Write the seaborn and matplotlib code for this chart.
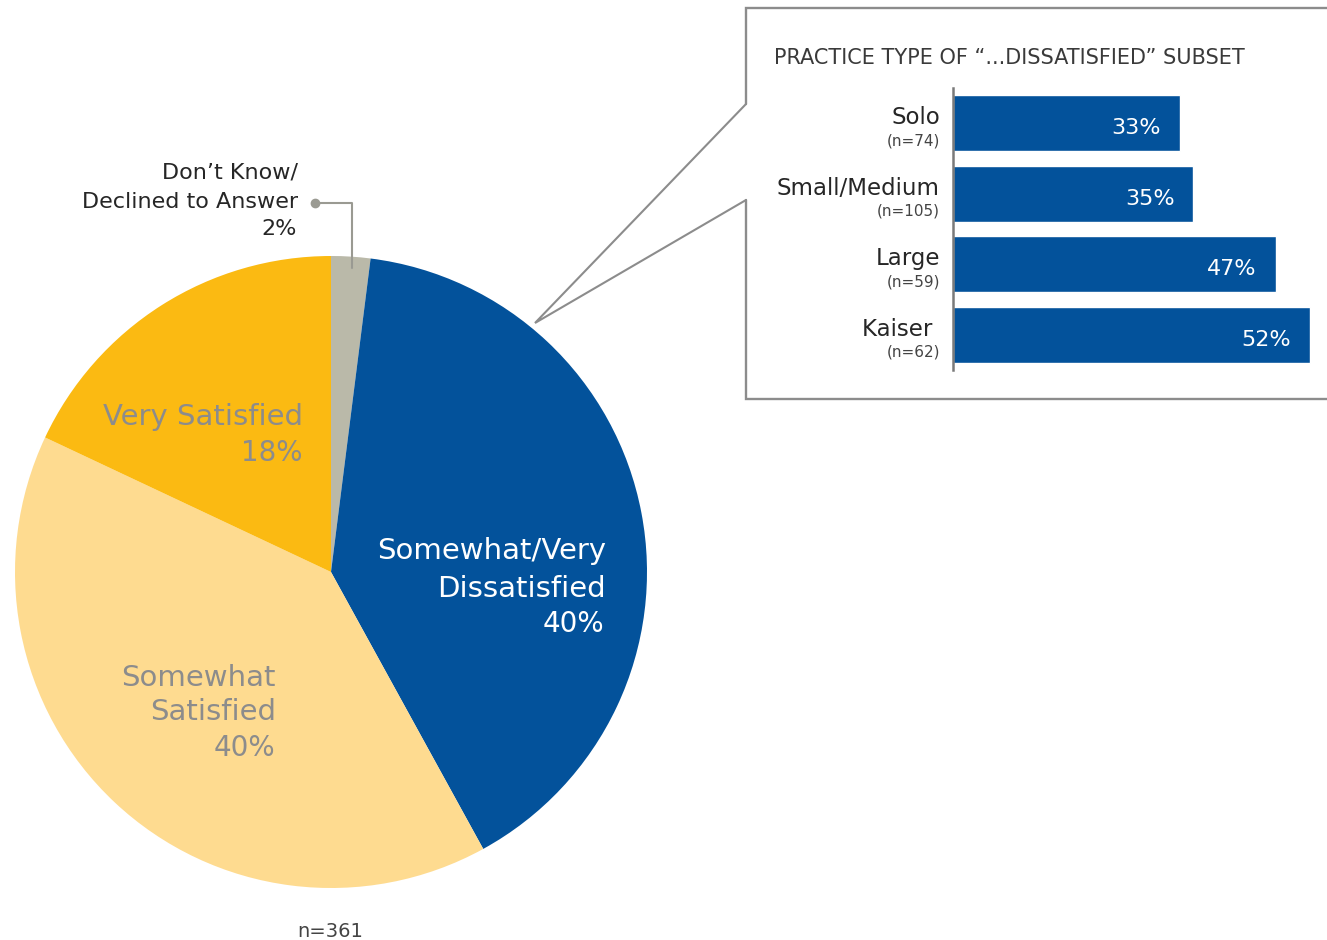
import matplotlib
matplotlib.use('Agg')
import matplotlib.pyplot as plt
import seaborn as sns
import pandas as pd

# ---- dados ----
pie_labels = ['Don’t Know/Declined to Answer', 'Somewhat/Very Dissatisfied',
              'Somewhat Satisfied', 'Very Satisfied']
pie_pct = [2, 40, 40, 18]

practice = ['Solo', 'Small/Medium', 'Large', 'Kaiser ']
practice_n = [74, 105, 59, 62]
dissat_pct = [33, 35, 47, 52]

BLUE = '#03529B'
YELLOW = '#FBBA12'
LIGHT_YELLOW = '#FEDB90'
GRAY_SLICE = '#BAB9A9'
LABEL_GRAY = '#8C8C8C'
LINE_GRAY = '#8C8C8C'
DARK = '#262626'

sns.set_theme(style='white')
plt.rcParams['font.family'] = ['DejaVu Sans']

W, H = 1327, 940
fig = plt.figure(figsize=(W / 100, H / 100), dpi=100)

# ---------------------------------------------------------------------
# 1. Pizza principal
# ---------------------------------------------------------------------
cx, cy, r = 331, 572, 316
axp = fig.add_axes([(cx - r) / W, (H - cy - r) / H, 2 * r / W, 2 * r / H])
axp.pie(pie_pct, colors=[GRAY_SLICE, BLUE, LIGHT_YELLOW, YELLOW],
        startangle=90, counterclock=False, wedgeprops=dict(linewidth=0))
axp.set_xlim(-1, 1)
axp.set_ylim(-1, 1)
axp.set_aspect('auto')
axp.axis('off')

# ---------------------------------------------------------------------
# 2. Barras do subconjunto "insatisfeito"
# ---------------------------------------------------------------------
df = pd.DataFrame({'tipo': practice, 'pct': dissat_pct, 'n': practice_n})
x0, y_top, y_bot = 953, 88, 370
axb = fig.add_axes([x0 / W, (H - y_bot) / H, (W - x0) / W, (y_bot - y_top) / H])
sns.barplot(data=df, x='pct', y='tipo', color=BLUE, saturation=1,
            width=0.8, orient='h', ax=axb)
axb.set_xlim(0, (W - x0) / 6.87)
axb.set_ylim(3.5, -0.5)
axb.set_xlabel('')
axb.set_ylabel('')
axb.set_xticks([])
axb.set_yticks([])
axb.patch.set_alpha(0)
for side in ['top', 'right', 'bottom']:
    axb.spines[side].set_visible(False)
axb.spines['left'].set_color('#7A7A7A')
axb.spines['left'].set_linewidth(1.8)

for i, row in df.iterrows():
    axb.annotate(row['tipo'], xy=(0, i), xytext=(-13, -1), textcoords='offset pixels',
                 ha='right', va='baseline', fontsize=16.5, color=DARK, annotation_clip=False)
    axb.annotate(f"(n={row['n']})", xy=(0, i), xytext=(-13, -22), textcoords='offset pixels',
                 ha='right', va='baseline', fontsize=11, color='#444444', annotation_clip=False)
    axb.annotate(f"{row['pct']}%", xy=(row['pct'], i), xytext=(-19, -11),
                 textcoords='offset pixels', ha='right', va='baseline',
                 fontsize=16, color='white')

# ---------------------------------------------------------------------
# 3. Camada de anotações (coordenadas em pixels)
# ---------------------------------------------------------------------
axo = fig.add_axes([0, 0, 1, 1])
axo.set_xlim(0, W)
axo.set_ylim(H, 0)
axo.axis('off')
axo.patch.set_alpha(0)

# caixa e linhas de chamada
axo.plot([W + 10, 746, 746], [8, 8, 104], color=LINE_GRAY, lw=1.7, solid_joinstyle='miter')
axo.plot([746, 746, W + 10], [200, 399, 399], color=LINE_GRAY, lw=1.7, solid_joinstyle='miter')
axo.plot([746, 535, 746], [104, 323, 200], color=LINE_GRAY, lw=1.5, solid_joinstyle='miter')

axo.text(774, 64, 'PRACTICE TYPE OF “...DISSATISFIED” SUBSET', ha='left', va='baseline',
         fontsize=15, color='#3A3A3A')

# rótulos da pizza
axo.text(606, 559, 'Somewhat/Very', ha='right', va='baseline', fontsize=21, color='white')
axo.text(606, 597, 'Dissatisfied', ha='right', va='baseline', fontsize=21, color='white')
axo.text(604, 632, f'{pie_pct[1]}%', ha='right', va='baseline', fontsize=20, color='white')

axo.text(303, 425, 'Very Satisfied', ha='right', va='baseline', fontsize=21, color=LABEL_GRAY)
axo.text(302, 461, f'{pie_pct[3]}%', ha='right', va='baseline', fontsize=20, color=LABEL_GRAY)

axo.text(276, 686, 'Somewhat', ha='right', va='baseline', fontsize=21, color=LABEL_GRAY)
axo.text(276, 720, 'Satisfied', ha='right', va='baseline', fontsize=21, color=LABEL_GRAY)
axo.text(275, 756, f'{pie_pct[2]}%', ha='right', va='baseline', fontsize=20, color=LABEL_GRAY)

axo.text(298, 179, 'Don’t Know/', ha='right', va='baseline', fontsize=16, color=DARK)
axo.text(298, 208, 'Declined to Answer', ha='right', va='baseline', fontsize=16, color=DARK)
axo.text(297, 235, f'{pie_pct[0]}%', ha='right', va='baseline', fontsize=16, color=DARK)
axo.plot([315, 352, 352], [203, 203, 268], color='#9A9A92', lw=1.5)
axo.plot([315], [203], 'o', color='#9A9A92', ms=6)

axo.text(330, 937, 'n=361', ha='center', va='baseline', fontsize=14, color='#444444')

plt.savefig('out.png', dpi=100)
plt.close()
